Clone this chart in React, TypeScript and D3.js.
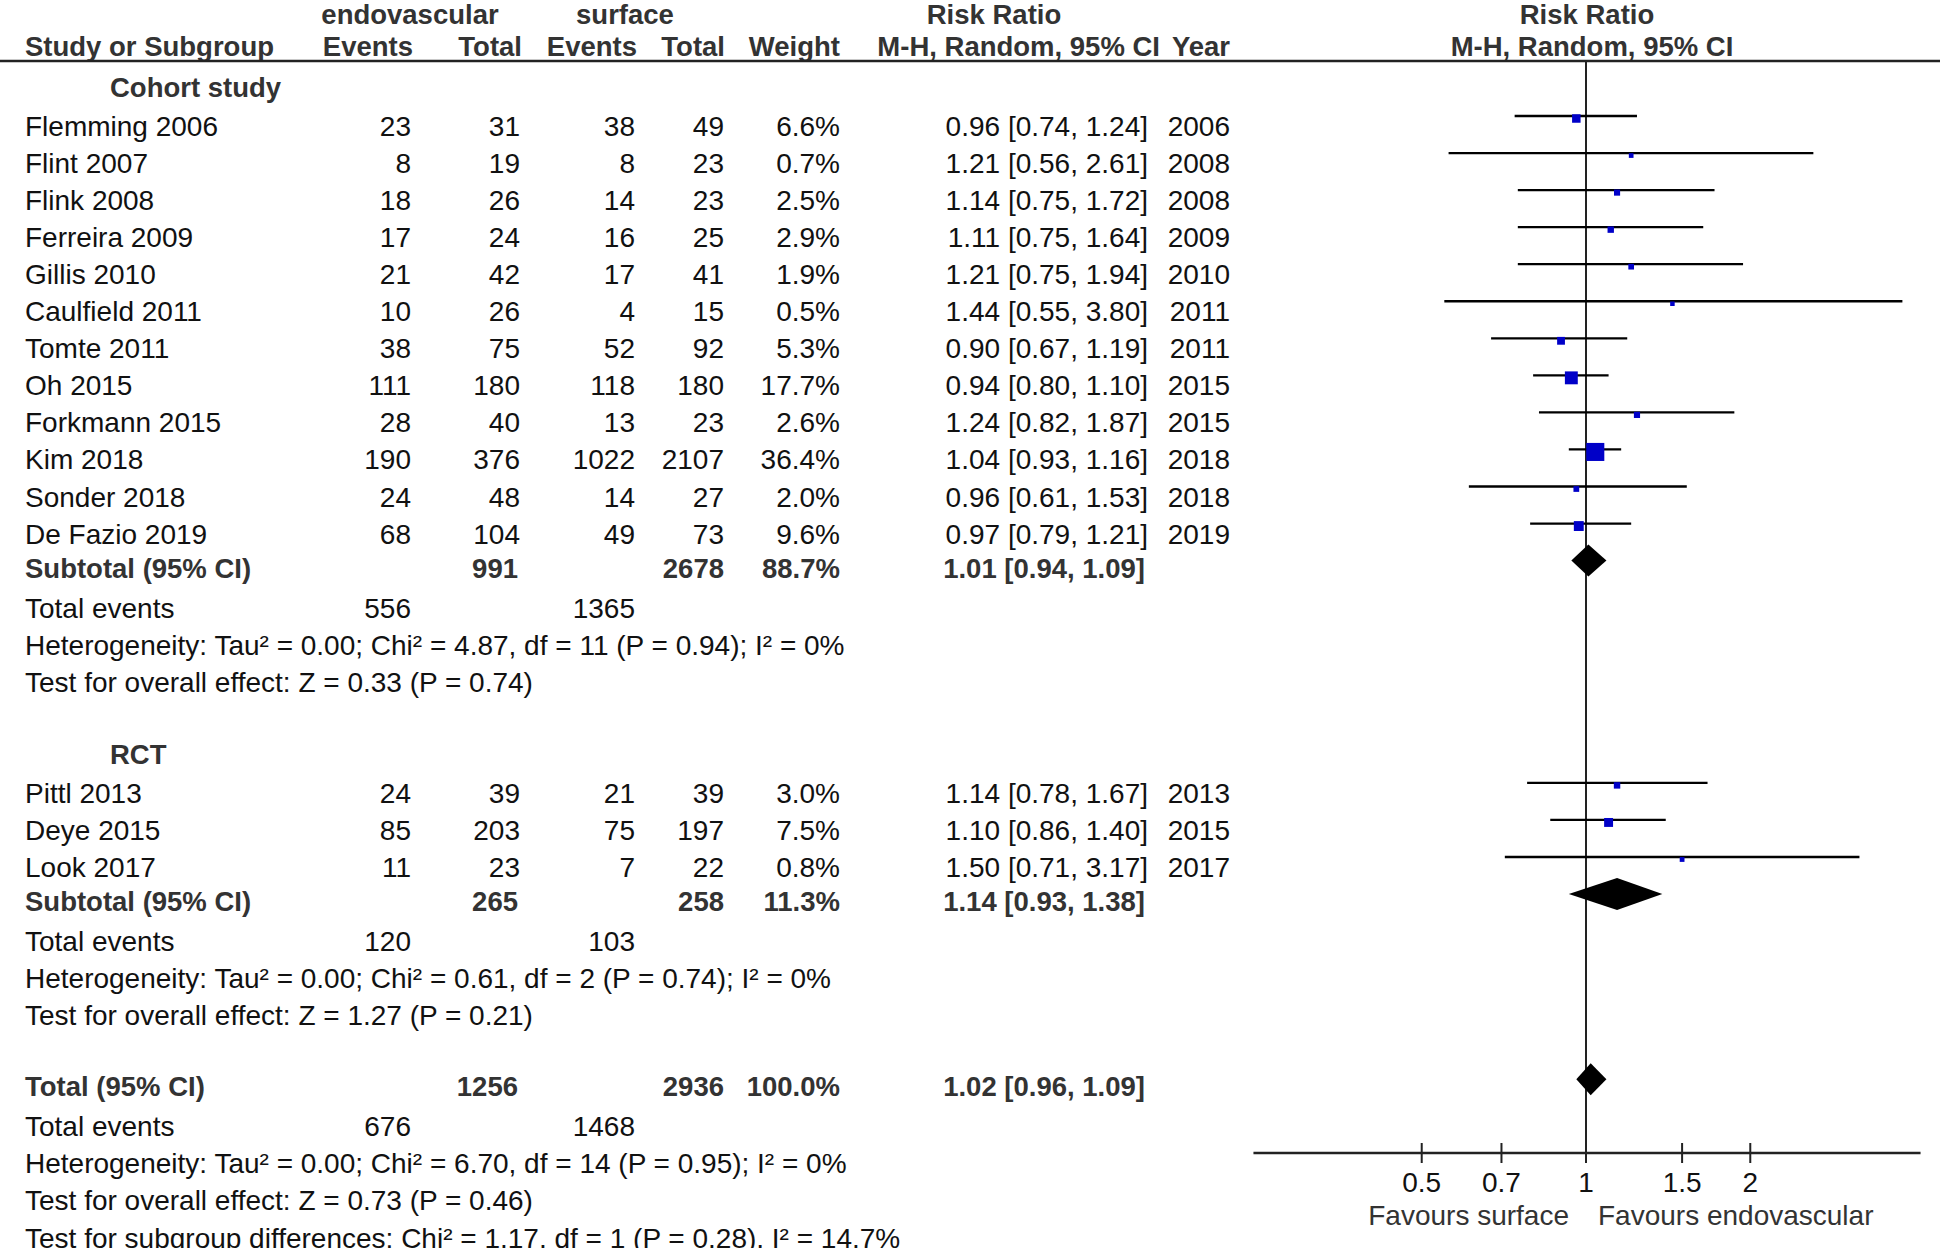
import React, { useEffect } from "react";
import * as d3 from "d3";

// ---------- data ----------
const cohortStudies = ["Flemming 2006", "Flint 2007", "Flink 2008", "Ferreira 2009", "Gillis 2010", "Caulfield 2011", "Tomte 2011", "Oh 2015", "Forkmann 2015", "Kim 2018", "Sonder 2018", "De Fazio 2019"];
const cohortEvEvents = [23, 8, 18, 17, 21, 10, 38, 111, 28, 190, 24, 68];
const cohortEvTotal = [31, 19, 26, 24, 42, 26, 75, 180, 40, 376, 48, 104];
const cohortSfEvents = [38, 8, 14, 16, 17, 4, 52, 118, 13, 1022, 14, 49];
const cohortSfTotal = [49, 23, 23, 25, 41, 15, 92, 180, 23, 2107, 27, 73];
const cohortWeight = [6.6, 0.7, 2.5, 2.9, 1.9, 0.5, 5.3, 17.7, 2.6, 36.4, 2.0, 9.6];
const cohortRR = [0.96, 1.21, 1.14, 1.11, 1.21, 1.44, 0.90, 0.94, 1.24, 1.04, 0.96, 0.97];
const cohortLo = [0.74, 0.56, 0.75, 0.75, 0.75, 0.55, 0.67, 0.80, 0.82, 0.93, 0.61, 0.79];
const cohortHi = [1.24, 2.61, 1.72, 1.64, 1.94, 3.80, 1.19, 1.10, 1.87, 1.16, 1.53, 1.21];
const cohortYear = [2006, 2008, 2008, 2009, 2010, 2011, 2011, 2015, 2015, 2018, 2018, 2019];

const rctStudies = ["Pittl 2013", "Deye 2015", "Look 2017"];
const rctEvEvents = [24, 85, 11];
const rctEvTotal = [39, 203, 23];
const rctSfEvents = [21, 75, 7];
const rctSfTotal = [39, 197, 22];
const rctWeight = [3.0, 7.5, 0.8];
const rctRR = [1.14, 1.10, 1.50];
const rctLo = [0.78, 0.86, 0.71];
const rctHi = [1.67, 1.40, 3.17];
const rctYear = [2013, 2015, 2017];

// subtotals: [evTotal, sfTotal, weight, rr, lo, hi, evEvents, sfEvents]
const cohortSubtotal = [991, 2678, 88.7, 1.01, 0.94, 1.09, 556, 1365];
const rctSubtotal = [265, 258, 11.3, 1.14, 0.93, 1.38, 120, 103];
const overallTotal = [1256, 2936, 100.0, 1.02, 0.96, 1.09, 676, 1468];

const cohortNotes = [
  "Heterogeneity: Tau² = 0.00; Chi² = 4.87, df = 11 (P = 0.94); I² = 0%",
  "Test for overall effect: Z = 0.33 (P = 0.74)",
];
const rctNotes = [
  "Heterogeneity: Tau² = 0.00; Chi² = 0.61, df = 2 (P = 0.74); I² = 0%",
  "Test for overall effect: Z = 1.27 (P = 0.21)",
];
const totalNotes = [
  "Heterogeneity: Tau² = 0.00; Chi² = 6.70, df = 14 (P = 0.95); I² = 0%",
  "Test for overall effect: Z = 0.73 (P = 0.46)",
  "Test for subgroup differences: Chi² = 1.17, df = 1 (P = 0.28), I² = 14.7%",
];

const axisTicks = [0.5, 0.7, 1, 1.5, 2];
const axisDomain = [0.25, 4];

// ---------- layout ----------
const W = 1946;
const H = 1248;
const FS = 28;
const FSB = 27.5;
const FONT = "'Liberation Sans', Arial, Helvetica, sans-serif";
const ROW0 = 136; // baseline of first study row
const ROWH = 37.05;
const LINE_OFF = -20; // CI line relative to baseline
const COL = {
  name: 25,
  sub: 110,
  evE: 411,
  evT: 520,
  sfE: 635,
  sfT: 724,
  w: 840,
  ci: 1148,
  ciB: 1145,
  yr: 1230,
};
const AXIS_Y = 1153;
const HEADER_LINE_Y = 61;

const fmtW = (w: number) => w.toFixed(1) + "%";
const fmtCI = (r: number, l: number, h: number) => `${r.toFixed(2)} [${l.toFixed(2)}, ${h.toFixed(2)}]`;

export default function App() {
  useEffect(() => {
    document.body.style.margin = "0";
  }, []);

  const x = d3.scaleLog().domain(axisDomain).range([1586 - 237 * Math.log(4), 1586 + 237 * Math.log(4)]);
  const base = (i: number) => ROW0 + ROWH * i;
  const lineY = (i: number) => base(i) + LINE_OFF;
  const sq = (w: number) => Math.sqrt(16 + 8.5 * w);

  const txt = (s: string | number, xx: number, y: number, anchor = "end", bold = false, fill = "#111", key?: string) => (
    <text key={key} x={xx} y={y} textAnchor={anchor} fontWeight={bold ? "bold" : "normal"} fontSize={bold ? FSB : FS} fill={bold ? "#333" : fill}>
      {s}
    </text>
  );

  const studyRows = (names: string[], evE: number[], evT: number[], sfE: number[], sfT: number[], wt: number[], rr: number[], lo: number[], hi: number[], yr: number[], start: number, prefix: string) =>
    names.map((n, k) => {
      const i = start + k;
      const y = base(i);
      const ly = lineY(i);
      const s = sq(wt[k]);
      return (
        <g key={prefix + k}>
          {txt(n, COL.name, y, "start")}
          {txt(evE[k], COL.evE, y)}
          {txt(evT[k], COL.evT, y)}
          {txt(sfE[k], COL.sfE, y)}
          {txt(sfT[k], COL.sfT, y)}
          {txt(fmtW(wt[k]), COL.w, y)}
          {txt(fmtCI(rr[k], lo[k], hi[k]), COL.ci, y)}
          {txt(yr[k], COL.yr, y)}
          <line x1={x(lo[k])} x2={x(hi[k])} y1={ly} y2={ly} stroke="#000" strokeWidth={2.3} />
          <rect x={x(rr[k]) - s / 2} y={ly + 2.5 - s / 2} width={s} height={s} fill="#0000c8" />
        </g>
      );
    });

  const subtotalBlock = (label: string, vals: number[], i: number, notes: string[], key: string) => {
    const y = base(i) - 3;
    const ly = lineY(i);
    const [evT, sfT, w, r, l, h, evE, sfE] = vals;
    const dh = 16;
    const pts = [
      [x(l), ly],
      [x(r), ly - dh],
      [x(h), ly],
      [x(r), ly + dh],
    ];
    return (
      <g key={key}>
        {txt(label, COL.name, y, "start", true)}
        {txt(evT, COL.evT - 2, y, "end", true)}
        {txt(sfT, COL.sfT, y, "end", true)}
        {txt(fmtW(w), COL.w, y, "end", true)}
        {txt(fmtCI(r, l, h), COL.ciB, y, "end", true)}
        <polygon points={pts.map((p) => p.join(",")).join(" ")} fill="#000" />
        {txt("Total events", COL.name, base(i + 1), "start")}
        {txt(evE, COL.evE, base(i + 1))}
        {txt(sfE, COL.sfE, base(i + 1))}
        {notes.map((n, k) => txt(n, COL.name, base(i + 2 + k), "start", false, "#111", key + "n" + k))}
      </g>
    );
  };

  const x1 = x(1);

  return (
    <svg width={W} height={H} style={{ position: "absolute", left: 0, top: 0, background: "#fff" }} fontFamily={FONT} fontSize={FS}>
      <rect x={0} y={0} width={W} height={H} fill="#fff" />
      {/* headers */}
      {txt("endovascular", 410, 24, "middle", true)}
      {txt("surface", 625, 24, "middle", true)}
      {txt("Risk Ratio", 994, 24, "middle", true)}
      {txt("Risk Ratio", 1587, 24, "middle", true)}
      {txt("Study or Subgroup", COL.name, 56, "start", true)}
      {txt("Events", COL.evE + 2, 56, "end", true)}
      {txt("Total", COL.evT + 2, 56, "end", true)}
      {txt("Events", COL.sfE + 2, 56, "end", true)}
      {txt("Total", COL.sfT + 1, 56, "end", true)}
      {txt("Weight", COL.w, 56, "end", true)}
      {txt("M-H, Random, 95% CI", 1160, 56, "end", true)}
      {txt("Year", COL.yr, 56, "end", true)}
      {txt("M-H, Random, 95% CI", 1592, 56, "middle", true)}
      <line x1={0} x2={1940} y1={HEADER_LINE_Y} y2={HEADER_LINE_Y} stroke="#222" strokeWidth={2.6} />

      {/* vertical line of no effect */}
      <line x1={x1} x2={x1} y1={HEADER_LINE_Y} y2={AXIS_Y} stroke="#222" strokeWidth={2} />

      {/* cohort */}
      {txt("Cohort study", COL.sub, base(-1) - 2, "start", true)}
      {studyRows(cohortStudies, cohortEvEvents, cohortEvTotal, cohortSfEvents, cohortSfTotal, cohortWeight, cohortRR, cohortLo, cohortHi, cohortYear, 0, "c")}
      {subtotalBlock("Subtotal (95% CI)", cohortSubtotal, 12, cohortNotes, "cs")}

      {/* RCT */}
      {txt("RCT", COL.sub, base(17) - 2, "start", true)}
      {studyRows(rctStudies, rctEvEvents, rctEvTotal, rctSfEvents, rctSfTotal, rctWeight, rctRR, rctLo, rctHi, rctYear, 18, "r")}
      {subtotalBlock("Subtotal (95% CI)", rctSubtotal, 21, rctNotes, "rs")}

      {/* overall */}
      {subtotalBlock("Total (95% CI)", overallTotal, 26, totalNotes, "tt")}

      {/* axis */}
      <line x1={x(axisDomain[0]) - 4} x2={x(axisDomain[1]) + 6} y1={AXIS_Y} y2={AXIS_Y} stroke="#222" strokeWidth={2.3} />
      {axisTicks.map((t) => (
        <g key={"t" + t}>
          <line x1={x(t)} x2={x(t)} y1={AXIS_Y - 10} y2={AXIS_Y + 10} stroke="#222" strokeWidth={2} />
          <text x={x(t)} y={1192} textAnchor="middle" fill="#111">
            {d3.format("~g")(t)}
          </text>
        </g>
      ))}
      <text x={x1 - 17} y={1225} textAnchor="end" fill="#333">Favours surface</text>
      <text x={x1 + 12} y={1225} textAnchor="start" fill="#333">Favours endovascular</text>
    </svg>
  );
}
